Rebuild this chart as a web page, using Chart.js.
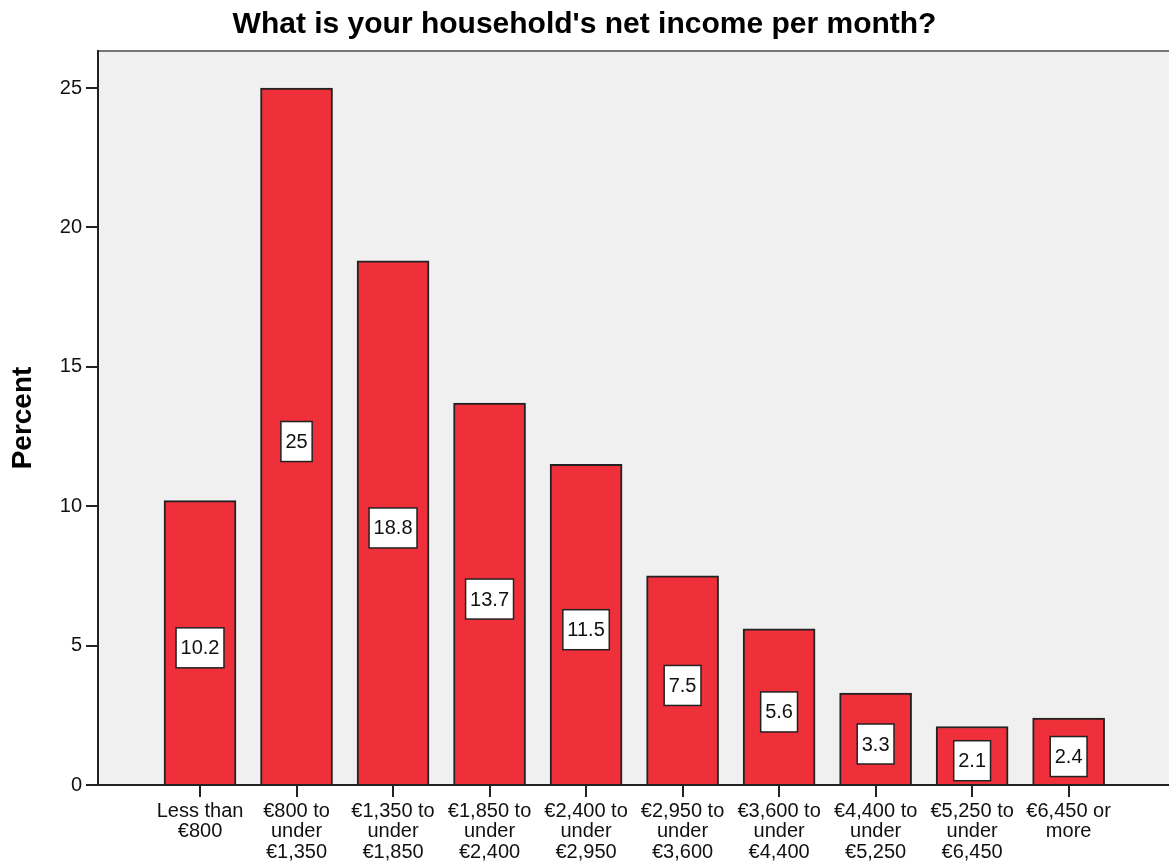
<!DOCTYPE html>
<html>
<head>
<meta charset="utf-8">
<title>Household net income per month</title>
<script src="https://cdn.jsdelivr.net/npm/chart.js@4.4.1/dist/chart.umd.min.js"></script>
<style>
  html, body { margin: 0; padding: 0; background: #fff; }
  #wrap { width: 1169px; height: 866px; }
</style>
</head>
<body>
<div id="wrap"><canvas id="grafico"></canvas></div>
<script>
// categorias de renda e percentuais
const categorias = [
  ['Less than', '€800'],
  ['€800 to', 'under', '€1,350'],
  ['€1,350 to', 'under', '€1,850'],
  ['€1,850 to', 'under', '€2,400'],
  ['€2,400 to', 'under', '€2,950'],
  ['€2,950 to', 'under', '€3,600'],
  ['€3,600 to', 'under', '€4,400'],
  ['€4,400 to', 'under', '€5,250'],
  ['€5,250 to', 'under', '€6,450'],
  ['€6,450 or', 'more'],
];
const percentuais = [10.2, 25, 18.8, 13.7, 11.5, 7.5, 5.6, 3.3, 2.1, 2.4];
const ticksY = [0, 5, 10, 15, 20, 25];

const FONTE = '"Liberation Sans", Arial, sans-serif';

// fundo cinza da área do gráfico + borda superior
const fundoArea = {
  id: 'fundoArea',
  beforeDraw(chart) {
    const { ctx, chartArea: a } = chart;
    ctx.save();
    ctx.fillStyle = '#F0F0F0';
    ctx.fillRect(a.left, a.top, a.right - a.left, a.bottom - a.top);
    ctx.strokeStyle = '#777';
    ctx.lineWidth = 2;
    ctx.beginPath();
    ctx.moveTo(a.left, a.top);
    ctx.lineTo(a.right, a.top);
    ctx.stroke();
    ctx.restore();
  },
};

// caixinhas brancas com o valor no meio de cada barra
const rotulosValor = {
  id: 'rotulosValor',
  afterDatasetsDraw(chart) {
    const { ctx } = chart;
    const meta = chart.getDatasetMeta(0);
    const escalaY = chart.scales.y;
    ctx.save();
    ctx.font = `20px ${FONTE}`;
    ctx.textAlign = 'center';
    ctx.textBaseline = 'middle';
    meta.data.forEach((barra, i) => {
      const v = percentuais[i];
      const texto = String(v);
      const cx = barra.x;
      const cy = escalaY.getPixelForValue(v / 2) + 5;
      const w = ctx.measureText(texto).width + 9;
      const h = 40;
      ctx.fillStyle = '#fff';
      ctx.fillRect(cx - w / 2, cy - h / 2, w, h);
      ctx.strokeStyle = '#222';
      ctx.lineWidth = 1.5;
      ctx.strokeRect(cx - w / 2, cy - h / 2, w, h);
      ctx.fillStyle = '#111';
      ctx.fillText(texto, cx, cy + 1);
    });
    ctx.restore();
  },
};

new Chart(document.getElementById('grafico'), {
  type: 'bar',
  data: {
    datasets: [{
      data: percentuais.map((v, i) => ({ x: i, y: v })),
      backgroundColor: '#EF2F3A',
      borderColor: '#222',
      borderWidth: 2,
      barThickness: 72,
    }],
  },
  options: {
    responsive: true,
    maintainAspectRatio: false,
    animation: false,
    layout: { padding: 0 },
    plugins: {
      legend: { display: false },
      tooltip: { enabled: false },
      title: {
        display: true,
        text: "What is your household's net income per month?",
        color: '#000',
        font: { family: FONTE, size: 30, weight: 'bold' },
        padding: { top: 7, bottom: 8 },
      },
    },
    scales: {
      x: {
        type: 'linear',
        offset: false,
        min: -1.057,
        max: 10.04,
        afterBuildTicks: (s) => { s.ticks = categorias.map((_, i) => ({ value: i })); },
        afterFit: (s) => { s.height = 81; },
        grid: { offset: false, drawOnChartArea: false, color: '#222', tickLength: 12, lineWidth: 2 },
        border: { color: '#222', width: 2 },
        ticks: {
          autoSkip: false,
          maxRotation: 0,
          padding: 4,
          color: '#111',
          font: { family: FONTE, size: 20, lineHeight: 1.03 },
          callback: (v) => categorias[v] || '',
        },
      },
      y: {
        min: 0,
        max: 26.33,
        afterBuildTicks: (s) => { s.ticks = ticksY.map((v) => ({ value: v })); },
        afterFit: (s) => { s.width = 98; },
        grid: { drawOnChartArea: false, color: '#222', tickLength: 12, lineWidth: 2 },
        border: { color: '#222', width: 2 },
        title: {
          display: true,
          text: 'Percent',
          color: '#000',
          font: { family: FONTE, size: 28, weight: 'bold' },
          padding: { top: 6, bottom: 0 },
        },
        ticks: {
          padding: 4,
          color: '#111',
          font: { family: FONTE, size: 20 },
        },
      },
    },
  },
  plugins: [fundoArea, rotulosValor],
});
</script>
</body>
</html>
